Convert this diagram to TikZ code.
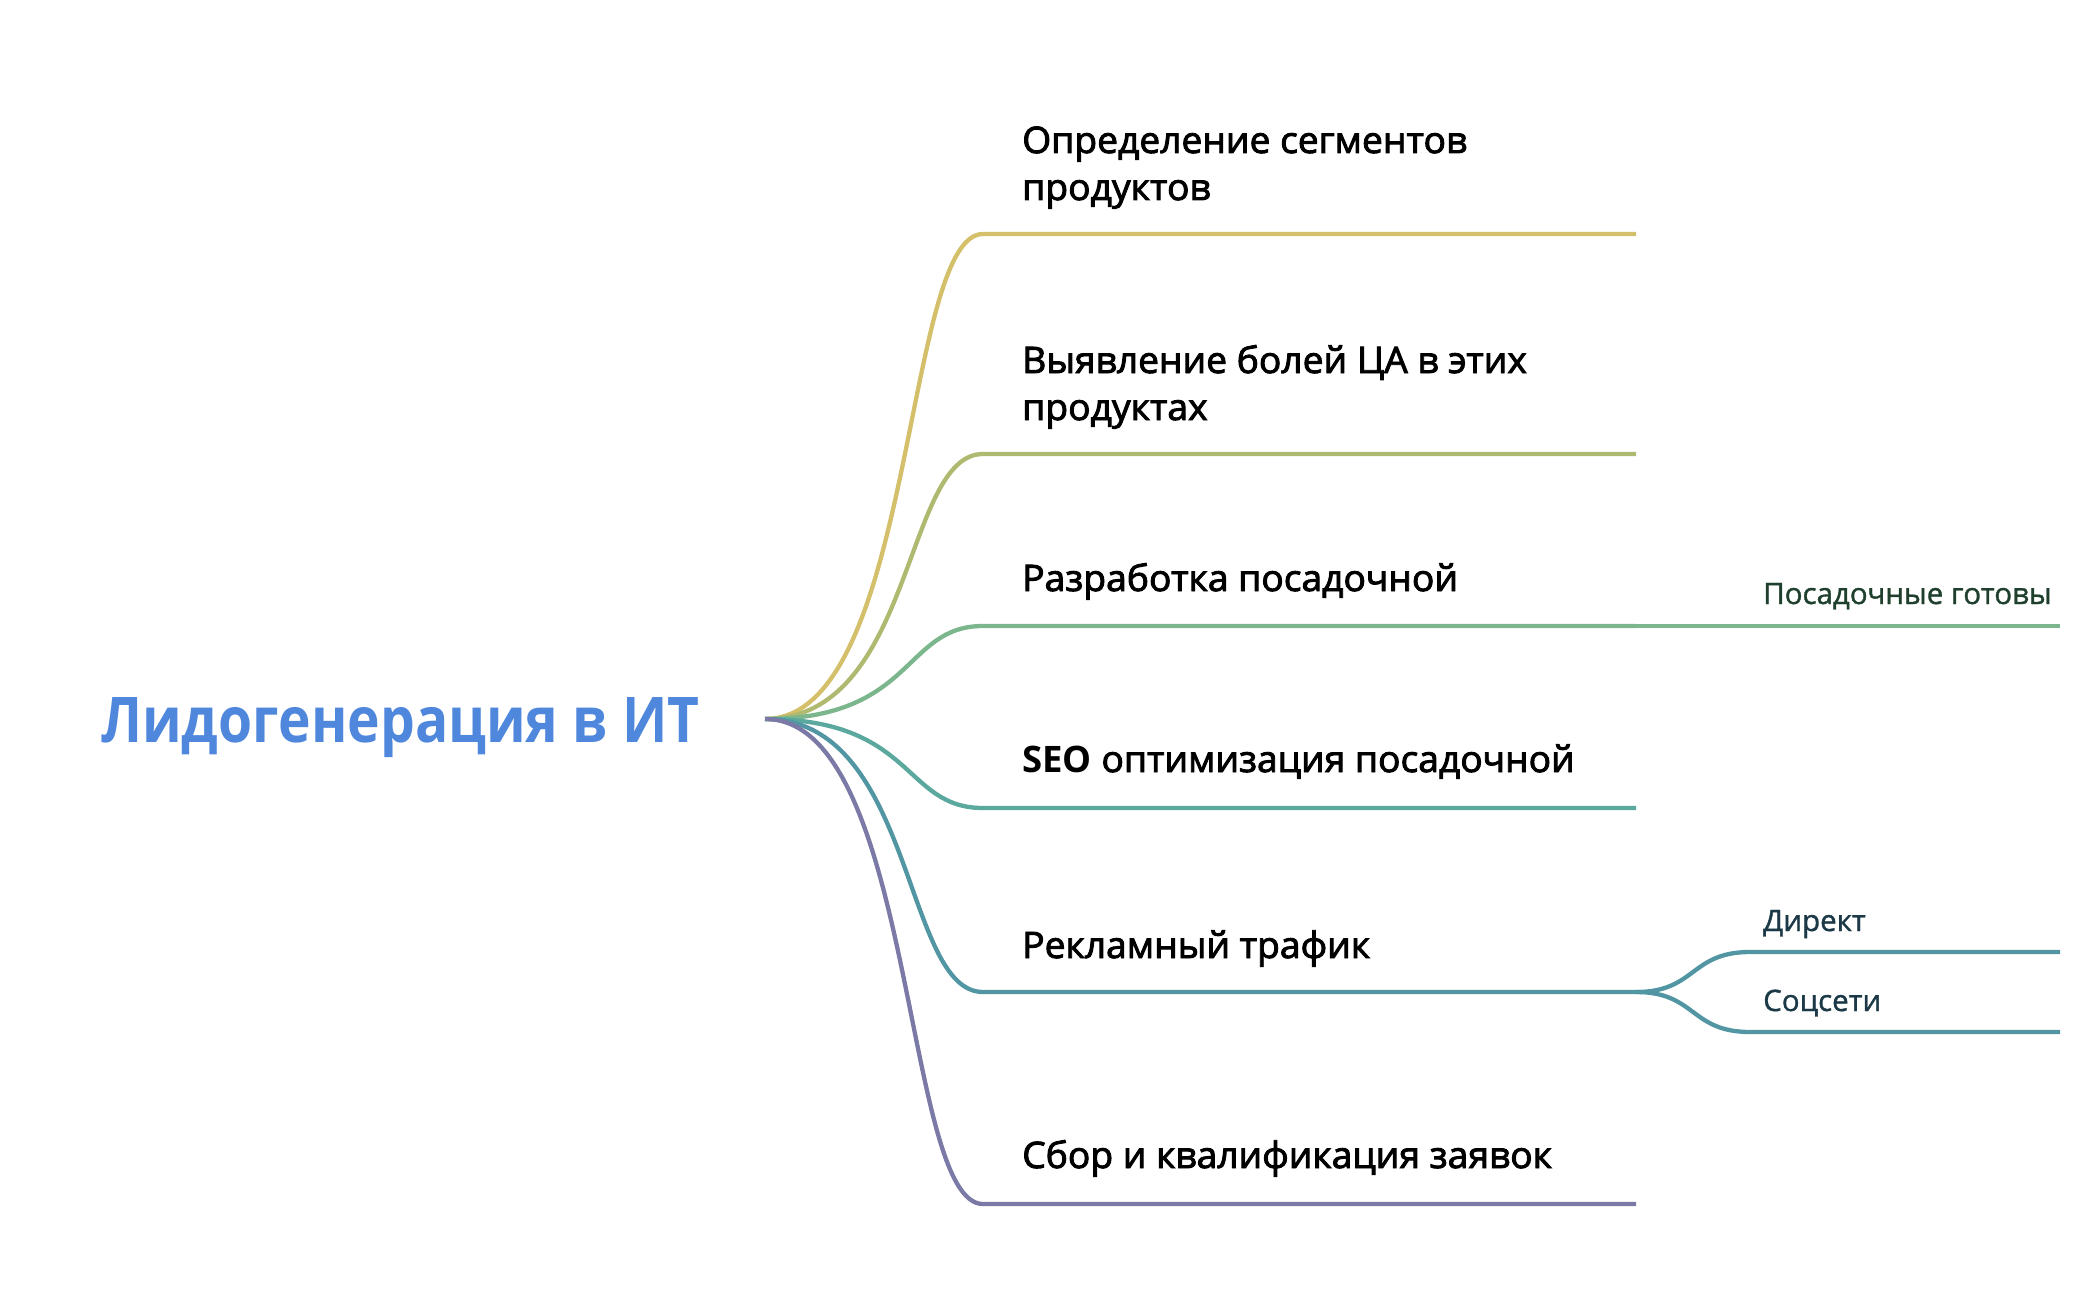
\documentclass[tikz,border=0pt]{standalone}
\usepackage{fontspec}
\setmainfont{Open Sans}
\newfontfamily\medfont{Open Sans}[FakeBold=2.5, FakeStretch=1.02]
\newfontfamily\plainfont{Open Sans}
\newfontfamily\subfont{Open Sans}[FakeBold=1.2]
\newfontfamily\rootfont{Open Sans}[FakeStretch=0.875]
\usetikzlibrary{calc}
\definecolor{cA}{HTML}{D4BF6A}
\definecolor{cB}{HTML}{B0B970}
\definecolor{cC}{HTML}{7CB68C}
\definecolor{cD}{HTML}{5AA89E}
\definecolor{cE}{HTML}{5296A4}
\definecolor{cF}{HTML}{7B79A6}
\definecolor{rootblue}{HTML}{4F87DD}
\definecolor{subgreen}{HTML}{20402E}
\definecolor{subblue}{HTML}{1B3947}
\tikzset{
  branch/.style={line width=4.3pt, line cap=butt},
  lbl/.style={anchor=base west, inner sep=0pt, align=left, text=black,
    font=\medfont\fontsize{36.5}{47}\selectfont},
  sublbl/.style={anchor=base west, inner sep=0pt,
    font=\subfont\fontsize{29.5}{36}\selectfont},
  rootlbl/.style={anchor=base west, inner sep=0pt, text=rootblue,
    font=\rootfont\bfseries\fontsize{63}{75}\selectfont}
}
\begin{document}
\begin{tikzpicture}[x=1pt,y=-1pt]
\useasboundingbox (0,0) rectangle (2095,1300);
% root
\node[rootlbl] (root) at (101,742) {Лидогенерация в ИТ};
\coordinate (R) at (765,719);
% branch corners and ends
\coordinate (E1) at (983,234);  \coordinate (F1) at (1636,234);
\coordinate (E2) at (983,454);  \coordinate (F2) at (1636,454);
\coordinate (E3) at (983,626);  \coordinate (F3) at (1636,626);
\coordinate (E4) at (983,808);  \coordinate (F4) at (1636,808);
\coordinate (E5) at (983,992);  \coordinate (F5) at (1636,992);
\coordinate (E6) at (983,1204); \coordinate (F6) at (1636,1204);
% sub ends
\coordinate (G3) at (1750,626); \coordinate (H3) at (2060,626);
\coordinate (S1) at (1750,952); \coordinate (T1) at (2060,952);
\coordinate (S2) at (1750,1032); \coordinate (T2) at (2060,1032);
% labels
\node[lbl] (l1) at (1022,200) {\begin{tabular}[b]{@{}l@{}}Определение сегментов\\продуктов\end{tabular}};
\node[lbl] (l2) at (1022,420) {\begin{tabular}[b]{@{}l@{}}Выявление болей ЦА в этих\\продуктах\end{tabular}};
\node[lbl] (l3) at (1022,591) {Разработка посадочной};
\node[lbl] (l4) at (1022,772) {{\plainfont\bfseries SEO} оптимизация посадочной};
\node[lbl] (l5) at (1022,958) {Рекламный трафик};
\node[lbl] (l6) at (1022,1168) {Сбор и квалификация заявок};
\node[sublbl, text=subgreen] (s3) at (1763,604) {Посадочные готовы};
\node[sublbl, text=subblue] (s51) at (1763,931) {Директ};
\node[sublbl, text=subblue] (s52) at (1763,1011) {Соцсети};
% connectors
\foreach \i/\c in {1/cA,2/cB,3/cC,4/cD,5/cE,6/cF}{
  \draw[branch, draw=\c] (R) .. controls ($(R)+(150,0)$) and ($(E\i)+(-80,0)$) .. (E\i) -- (F\i);
}
\draw[branch, draw=cC] (F3) -- (G3) -- (H3);
\draw[branch, draw=cE] (F5) .. controls ($(F5)+(60,0)$) and ($(S1)+(-60,0)$) .. (S1) -- (T1);
\draw[branch, draw=cE] (F5) .. controls ($(F5)+(60,0)$) and ($(S2)+(-60,0)$) .. (S2) -- (T2);
\end{tikzpicture}
\end{document}
